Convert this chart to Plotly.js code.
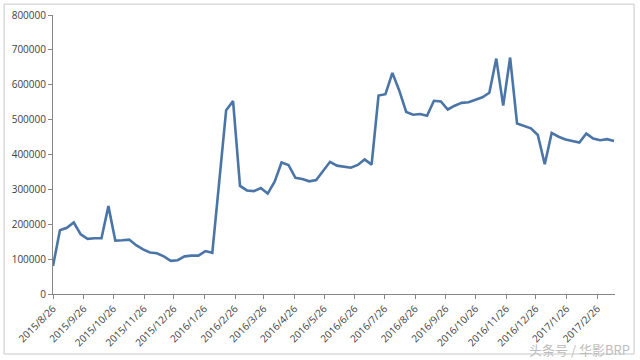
<!DOCTYPE html>
<html>
<head>
<meta charset="utf-8">
<script src="https://cdn.plot.ly/plotly-3.0.1.min.js"></script>
<style>
html,body{margin:0;padding:0;background:#fff;}
#chart{width:640px;height:360px;}
</style>
</head>
<body>
<div id="chart"></div>
<script>
// Weekly observations starting 2015-08-26
const startDate = "2015-08-26";
const values = [
  80000, 183000, 190000, 205000, 171000, 158000, 160000, 160000, 252000, 153000,
  154000, 156000, 140000, 128000, 119000, 117000, 108000, 95000, 97000, 108000,
  110000, 110000, 123000, 118000, 322000, 527000, 553000, 310000, 297000, 295000,
  304000, 288000, 322000, 377000, 370000, 333000, 330000, 323000, 327000, 354000,
  379000, 368000, 364000, 362000, 370000, 386000, 371000, 569000, 573000, 634000,
  583000, 522000, 514000, 516000, 511000, 554000, 552000, 529000, 540000, 548000,
  550000, 558000, 564000, 577000, 675000, 540000, 678000, 489000, 481000, 475000,
  456000, 372000, 462000, 451000, 443000, 438000, 434000, 460000, 446000, 441000,
  444000, 439000
];
const tickDates = [
  "2015-08-26","2015-09-26","2015-10-26","2015-11-26","2015-12-26","2016-01-26",
  "2016-02-26","2016-03-26","2016-04-26","2016-05-26","2016-06-26","2016-07-26",
  "2016-08-26","2016-09-26","2016-10-26","2016-11-26","2016-12-26","2017-01-26",
  "2017-02-26"
];
const tickLabels = [
  "2015/8/26","2015/9/26","2015/10/26","2015/11/26","2015/12/26","2016/1/26",
  "2016/2/26","2016/3/26","2016/4/26","2016/5/26","2016/6/26","2016/7/26",
  "2016/8/26","2016/9/26","2016/10/26","2016/11/26","2016/12/26","2017/1/26",
  "2017/2/26"
];
const yTicks = [0,100000,200000,300000,400000,500000,600000,700000,800000];

function addDays(iso, n){
  const d = new Date(iso + "T00:00:00Z");
  d.setUTCDate(d.getUTCDate() + n);
  return d.toISOString().slice(0,10);
}
const dates = values.map((v,i) => addDays(startDate, 7*i));

const trace = {
  x: dates, y: values, type: "scatter", mode: "lines",
  line: {color: "#4a75a6", width: 2.6},
  hoverinfo: "skip"
};

const layout = {
  width: 640, height: 360,
  margin: {l: 53, r: 25, t: 15, b: 66},
  paper_bgcolor: "#ffffff", plot_bgcolor: "#ffffff",
  showlegend: false,
  font: {family: "Open Sans, sans-serif", size: 10, color: "#404040"},
  xaxis: {
    type: "date",
    range: [startDate, "2017-03-16"],
    tickmode: "array", tickvals: tickDates, ticktext: tickLabels,
    tickangle: -45,
    showgrid: false, zeroline: false,
    showline: true, linecolor: "#868686", linewidth: 1,
    ticks: "outside", ticklen: 4, tickcolor: "#868686",
    tickfont: {size: 10, color: "#404040"}
  },
  yaxis: {
    range: [0, 800000],
    tickmode: "array", tickvals: yTicks, ticktext: yTicks.map(String),
    showgrid: false, zeroline: false,
    showline: true, linecolor: "#868686", linewidth: 1,
    ticks: "outside", ticklen: 4, tickcolor: "#868686",
    tickfont: {size: 10, color: "#404040"}
  },
  shapes: [{
    type: "rect", xref: "paper", yref: "paper",
    x0: -0.087, x1: 1.034, y0: -0.215, y1: 1.039,
    line: {color: "#c8c8c8", width: 1}, fillcolor: "rgba(0,0,0,0)", layer: "below"
  }],
  annotations: [{
    text: "头条号 / 华影BRP", xref: "paper", yref: "paper",
    x: 1.03, y: -0.2, xanchor: "right", yanchor: "middle", showarrow: false,
    font: {family: "Noto Sans CJK SC, sans-serif", size: 13, color: "#bdbdbd"}
  }]
};

Plotly.newPlot("chart", [trace], layout, {displayModeBar: false, staticPlot: true});
</script>
</body>
</html>
